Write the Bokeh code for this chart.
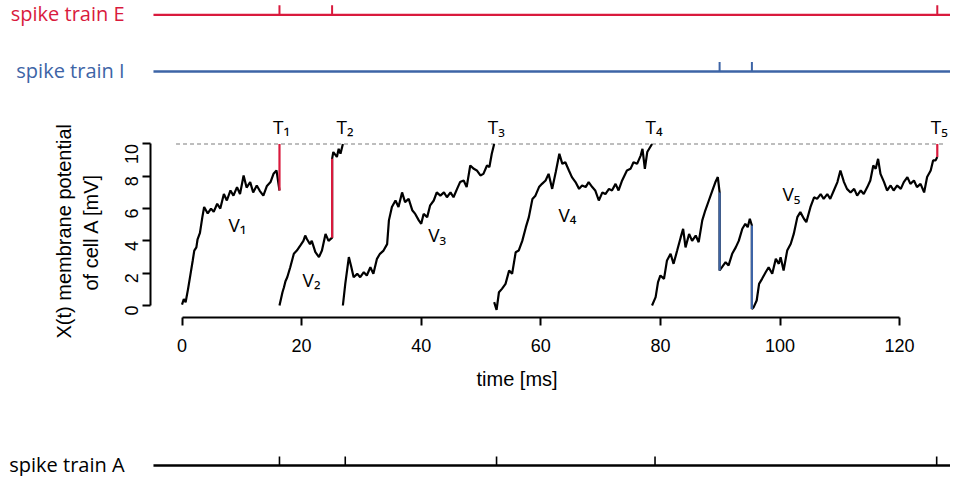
import math
from bokeh.plotting import figure
from bokeh.models import Range1d, FixedTicker, Title
from bokeh.embed import file_html
from bokeh.resources import INLINE
from bokeh.core.properties import value

# ---------------- data ----------------
# membrane potential trace, one list of (time [ms], X [mV]) per inter-spike segment
seg1 = [(0.0, 0.05), (0.3, 0.4), (0.6, 0.2), (1.0, 1.0), (1.4, 1.9), (1.8, 2.8), (2.05, 3.4),
        (2.4, 3.6), (2.6, 4.1), (3.0, 4.5), (3.4, 5.47), (3.7, 6.1), (4.3, 5.7), (4.85, 6.0),
        (5.3, 5.8), (5.88, 6.3), (6.4, 6.0), (7.0, 6.9), (7.5, 6.5), (8.1, 7.12), (8.6, 6.8),
        (9.2, 7.33), (9.7, 6.9), (10.3, 8.05), (10.8, 7.3), (11.4, 7.64), (11.9, 7.0),
        (12.5, 7.43), (13.0, 7.1), (13.6, 6.8), (14.2, 7.4), (14.8, 7.64), (15.3, 8.15),
        (15.8, 8.36), (16.3, 7.12)]
seg2 = [(16.3, 0.0), (16.8, 0.82), (17.05, 1.13), (17.3, 1.5), (17.6, 1.75), (18.1, 2.37),
        (18.7, 3.2), (19.2, 3.4), (19.8, 3.72), (20.3, 4.0), (20.6, 4.33), (20.9, 4.1),
        (21.4, 3.8), (21.7, 4.0), (22.3, 3.3), (22.9, 3.0), (23.4, 3.4), (24.0, 4.43),
        (24.5, 4.0), (25.1, 4.2), (25.1, 9.08), (25.3, 9.5), (25.9, 9.2), (26.2, 9.7),
        (26.5, 9.4), (26.9, 10.0)]
seg3 = [(26.9, 0.0), (27.3, 1.34), (27.9, 3.0), (28.3, 2.4), (28.7, 1.75), (29.3, 1.96),
        (29.8, 1.75), (30.4, 2.06), (30.9, 1.86), (31.5, 2.37), (32.0, 1.96), (32.6, 2.89),
        (33.1, 3.2), (33.7, 3.4), (34.3, 3.8), (34.6, 5.27), (35.1, 6.1), (35.7, 6.5),
        (36.2, 6.1), (36.8, 7.0), (37.3, 6.4), (37.9, 6.6), (38.5, 5.9), (39.0, 5.67),
        (39.6, 5.27), (40.0, 5.06), (40.4, 5.67), (41.0, 5.47), (41.5, 6.2), (42.1, 6.5),
        (42.6, 7.0), (43.2, 6.8), (43.8, 7.0), (44.3, 6.7), (44.9, 7.0), (45.4, 6.7),
        (46.0, 7.22), (46.5, 7.64), (47.1, 7.74), (47.6, 7.33), (48.2, 8.67), (48.8, 8.46),
        (49.3, 8.36), (49.9, 8.05), (50.4, 8.15), (51.0, 8.67), (51.4, 8.57), (51.8, 9.39),
        (52.2, 10.0)]
seg4 = [(52.2, 0.21), (52.6, -0.27), (53.0, 0.82), (53.5, 1.03), (54.1, 1.34), (54.7, 2.17),
        (55.2, 1.96), (55.8, 3.3), (56.3, 3.4), (56.9, 4.0), (57.5, 4.85), (58.0, 5.47),
        (58.6, 6.6), (59.1, 6.8), (59.7, 7.33), (60.2, 7.53), (60.8, 7.74), (61.3, 8.15),
        (61.9, 7.22), (62.5, 8.26), (63.1, 9.39), (63.6, 8.77), (64.1, 8.87), (64.7, 8.36),
        (65.2, 7.95), (65.8, 7.64), (66.4, 7.22), (66.9, 7.43), (67.5, 7.33), (68.0, 7.64),
        (68.6, 7.33), (69.1, 7.12), (69.7, 6.5), (70.3, 7.0), (70.8, 6.9), (71.4, 7.22),
        (71.9, 7.12), (72.5, 7.53), (73.0, 7.12), (73.6, 7.74), (74.4, 8.36), (75.0, 8.46),
        (75.5, 8.87), (76.1, 8.77), (76.7, 9.28), (77.0, 9.7), (77.4, 8.46), (77.8, 9.5),
        (78.6, 10.0)]
seg5 = [(78.6, 0.0), (79.2, 0.52), (79.6, 1.45), (80.0, 1.86), (80.6, 1.65), (81.1, 2.79),
        (81.7, 3.2), (82.2, 2.58), (82.8, 3.4), (83.4, 4.23), (83.8, 4.75), (84.2, 3.6),
        (84.8, 4.43), (85.3, 4.0), (85.9, 4.33), (86.4, 3.92), (87.0, 5.27), (87.5, 5.88),
        (88.1, 6.5), (88.7, 7.12), (89.2, 7.64), (89.6, 7.95), (89.9, 7.0), (89.9, 2.17),
        (90.3, 2.37), (90.9, 2.68), (91.4, 2.48), (92.0, 3.2), (92.6, 3.6), (93.1, 4.0),
        (93.7, 4.75), (94.2, 5.06), (94.6, 4.85), (94.95, 5.37), (95.3, 4.95), (95.3, -0.21),
        (95.6, -0.1), (96.1, 0.31), (96.5, 1.34), (97.0, 1.65), (97.6, 2.06), (98.1, 2.37),
        (98.7, 1.96), (99.3, 2.89), (99.8, 2.58), (100.1, 2.99), (100.6, 2.17), (101.2, 3.4),
        (101.8, 3.82), (102.3, 4.43), (102.9, 5.47), (103.4, 5.78), (104.0, 5.37),
        (104.4, 5.16), (105.1, 6.1), (105.7, 6.7), (106.2, 6.6), (106.8, 6.9), (107.3, 6.6),
        (107.9, 6.9), (108.4, 6.6), (109.0, 7.12), (109.6, 7.64), (110.1, 8.36), (110.7, 7.64),
        (111.2, 7.22), (111.8, 7.0), (112.4, 7.22), (112.9, 6.8), (113.5, 7.12), (114.0, 6.9),
        (114.6, 7.33), (115.1, 7.74), (115.6, 8.67), (116.0, 8.46), (116.4, 9.08),
        (116.8, 8.15), (117.4, 7.64), (117.9, 7.12), (118.5, 7.43), (119.0, 7.12),
        (119.6, 7.43), (120.2, 7.22), (120.7, 7.64), (121.3, 7.95), (121.8, 7.53),
        (122.4, 7.74), (122.9, 7.33), (123.5, 7.53), (124.1, 7.0), (124.6, 7.95),
        (125.2, 8.36), (125.6, 8.98), (126.0, 8.98), (126.3, 9.19)]
segments = [seg1, seg2, seg3, seg4, seg5]

threshold = 10.0
threshold_extent = [-1.0, 127.3]          # where the dashed threshold line is drawn
train_extent = [-4.77, 131.0]             # extent of the spike-train lines

# spikes: (time, X before, X after)
jumps_E = [(16.3, 7.12, 10.0), (25.1, 4.2, 9.08), (126.3, 9.19, 10.0)]
jumps_I = [(89.9, 7.0, 2.17), (95.3, 4.95, -0.21)]
spikes_E = [16.3, 25.1, 126.3]
spikes_I = [89.9, 95.3]
spikes_A = [16.3, 27.3, 52.6, 79.1, 126.2]

T_times = [16.3, 26.9, 52.2, 78.6, 126.3]
T_names = ["T\u2081", "T\u2082", "T\u2083", "T\u2084", "T\u2085"]
V_names = ["V\u2081", "V\u2082", "V\u2083", "V\u2084", "V\u2085"]
V_pos_t = [9.28, 21.66, 42.67, 64.46, 101.9]
V_pos_x = [4.58, 1.13, 3.92, 5.16, 6.5]

x_ticks = [0, 20, 40, 60, 80, 100, 120]
y_ticks = [0, 2, 4, 6, 8, 10]

RED = "#d91a3d"
BLUE = "#3d64a6"
TICK_FONT = "Liberation Sans"
ANNOT_FONT = "Open Sans"
W = 950
LABEL_T = -9.6          # right edge of the spike-train names, in ms
STRIP_RANGE = (-30.35, 128.51)
TEXT_LIFT = 0.43        # lift of annotation baselines in the main panel, mV


def strip(height):
    f = figure(width=W, height=height, x_range=Range1d(*STRIP_RANGE), y_range=Range1d(0, height),
               output_backend="svg", toolbar_location=None, x_axis_type=None, y_axis_type=None,
               min_border_left=0, min_border_right=0, min_border_top=0, min_border_bottom=0)
    f.grid.visible = False
    f.outline_line_color = None
    return f


# ---------------- spike trains E and I (top strip, y in pixels from its bottom) ----------------
top = strip(90)
E_LEVEL, I_LEVEL, TICK_H = 75.7, 19.0, 9.5
top.line(train_extent, [E_LEVEL, E_LEVEL], line_color=RED, line_width=2.3)
top.segment(x0=spikes_E, y0=[E_LEVEL] * len(spikes_E), x1=spikes_E,
            y1=[E_LEVEL + TICK_H] * len(spikes_E), line_color=RED, line_width=2)
top.line(train_extent, [I_LEVEL, I_LEVEL], line_color=BLUE, line_width=2.3)
top.segment(x0=spikes_I, y0=[I_LEVEL] * len(spikes_I), x1=spikes_I,
            y1=[I_LEVEL + TICK_H] * len(spikes_I), line_color=BLUE, line_width=2)
top.text(x=[LABEL_T], y=[E_LEVEL + 1.5], text=["spike train E"], text_color=RED,
         text_font=value(ANNOT_FONT), text_font_size="20px", text_align="right",
         text_baseline="alphabetic")
top.text(x=[LABEL_T], y=[I_LEVEL + 1.5], text=["spike train I"], text_color=BLUE,
         text_font=value(ANNOT_FONT), text_font_size="20px", text_align="right",
         text_baseline="alphabetic")

# ---------------- main panel ----------------
main = figure(width=W, height=312, x_range=Range1d(-5.27, 128.51), y_range=Range1d(-0.743, 13.31),
              output_backend="svg", toolbar_location=None,
              min_border_left=150, min_border_right=0, min_border_top=0, min_border_bottom=85)
main.grid.visible = False
main.outline_line_color = None

for ax, ticks, bnds in ((main.xaxis[0], x_ticks, (0, 120)), (main.yaxis[0], y_ticks, (0, 10))):
    ax.ticker = FixedTicker(ticks=ticks)
    ax.bounds = bnds
    ax.axis_line_width = 2
    ax.axis_line_color = "black"
    ax.major_tick_line_width = 2
    ax.major_tick_line_color = "black"
    ax.major_tick_in = 0
    ax.major_tick_out = 8
    ax.minor_tick_line_color = None
    ax.major_label_text_font = TICK_FONT
    ax.major_label_text_font_size = "18px"
    ax.major_label_text_color = "black"
main.xaxis.major_label_standoff = 13
main.yaxis.major_label_standoff = 11
main.yaxis.major_label_orientation = math.pi / 2

# axis titles (left titles: align "left" starts at the frame bottom, offset moves them up)
main.add_layout(Title(text="of cell A [mV]", align="left", offset=27, standoff=25,
                      vertical_align="middle",
                      text_font=TICK_FONT, text_font_size="20px", text_font_style="normal",
                      text_color="black"), "left")
main.add_layout(Title(text="X(t)  membrane potential", align="left", offset=-21, standoff=-18,
                      vertical_align="middle",
                      text_font=TICK_FONT, text_font_size="20px", text_font_style="normal",
                      text_color="black"), "left")
main.add_layout(Title(text="time [ms]", align="left", offset=326, standoff=23,
                      text_font=TICK_FONT, text_font_size="20px", text_font_style="normal",
                      text_color="black"), "below")

# threshold line
main.line(threshold_extent, [threshold, threshold], line_color="#a8a8a8",
          line_width=1.5, line_dash="4 3")

# membrane potential
main.multi_line(xs=[[p[0] for p in s] for s in segments],
                ys=[[p[1] for p in s] for s in segments],
                line_color="black", line_width=2.2)

# synaptic jumps
main.segment(x0=[j[0] for j in jumps_E], y0=[j[1] for j in jumps_E],
             x1=[j[0] for j in jumps_E], y1=[j[2] for j in jumps_E],
             line_color=RED, line_width=2.2)
main.segment(x0=[j[0] for j in jumps_I], y0=[j[1] for j in jumps_I],
             x1=[j[0] for j in jumps_I], y1=[j[2] for j in jumps_I],
             line_color=BLUE, line_width=2.2)

# T and V labels
main.text(x=[t + 0.35 for t in T_times], y=[threshold + 0.65 + TEXT_LIFT] * len(T_times),
          text=T_names, text_font=value(ANNOT_FONT), text_font_size="19px", text_align="center",
          text_baseline="alphabetic", text_color="black")
main.text(x=V_pos_t, y=[v + TEXT_LIFT for v in V_pos_x], text=V_names,
          text_font=value(ANNOT_FONT), text_font_size="19px", text_align="center",
          text_baseline="alphabetic", text_color="black")

# ---------------- spike train A (bottom strip, y in pixels from its bottom) ----------------
bottom = strip(74)
A_LEVEL, A_TICK = 11.0, 9.0
bottom.line(train_extent, [A_LEVEL, A_LEVEL], line_color="black", line_width=2.3)
bottom.segment(x0=spikes_A, y0=[A_LEVEL] * len(spikes_A), x1=spikes_A,
               y1=[A_LEVEL + A_TICK] * len(spikes_A), line_color="black", line_width=1.6)
bottom.text(x=[LABEL_T], y=[A_LEVEL + 1.5], text=["spike train A"], text_color="black",
            text_font=value(ANNOT_FONT), text_font_size="20px", text_align="right",
            text_baseline="alphabetic")

# three stacked roots (kept separate so that their frames are not aligned to each other)
open("out.html", "w").write(file_html([top, main, bottom], INLINE))
